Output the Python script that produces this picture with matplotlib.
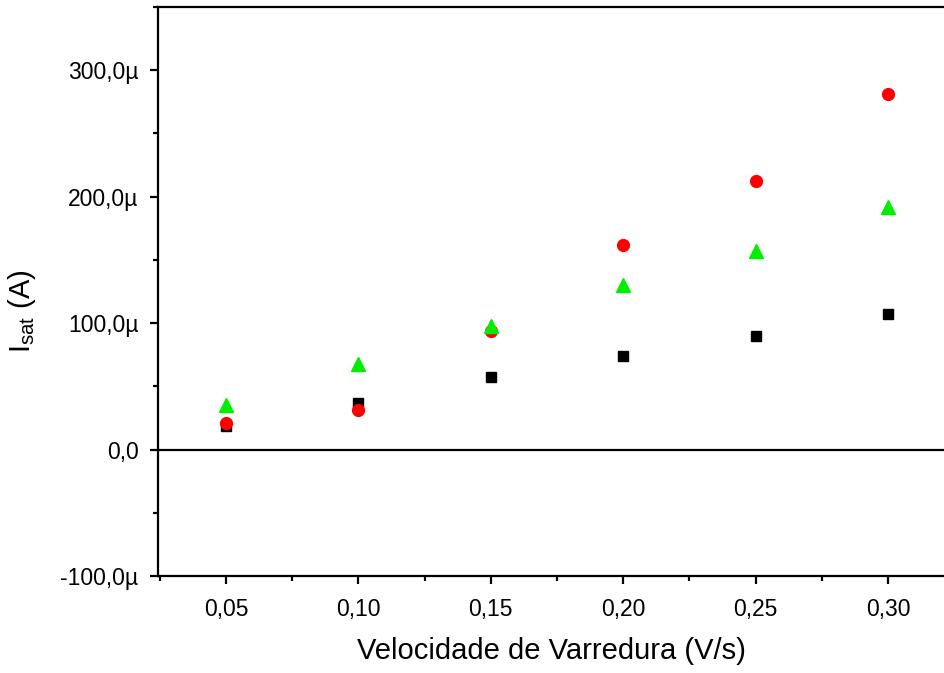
import matplotlib
matplotlib.use("Agg")
import matplotlib.pyplot as plt
from matplotlib.ticker import FuncFormatter, MultipleLocator

plt.rcParams['font.family'] = ['Liberation Sans', 'DejaVu Sans']

velocidade = [0.05, 0.10, 0.15, 0.20, 0.25, 0.30]
isat_preto = [19e-6, 37e-6, 57e-6, 74e-6, 90e-6, 107.5e-6]
isat_vermelho = [21e-6, 31.5e-6, 94e-6, 162e-6, 212.5e-6, 281e-6]
isat_verde = [35.5e-6, 68e-6, 98e-6, 130e-6, 157e-6, 192e-6]


def fmt_y(v, pos):
    if abs(v) < 1e-12:
        return "0,0"
    return ("%.1f" % (v * 1e6)).replace(".", ",") + "\u00b5"


def fmt_x(v, pos):
    return ("%.2f" % v).replace(".", ",")


fig = plt.figure(figsize=(9.45, 6.73), dpi=100)
ax = fig.add_axes([158 / 945, 97 / 673, 1 - 158 / 945, 569 / 673])

ax.plot(velocidade, isat_preto, 's', color='black', ms=7.5, mec='black')
ax.plot(velocidade, isat_vermelho, 'o', color='red', ms=8.5, mec='red')
ax.plot(velocidade, isat_verde, '^', color='#00ee00', ms=9.5, mec='#00ee00')
ax.axhline(0, color='black', lw=1.6, zorder=0)

ax.set_xlim(0.0243, 0.3215)
ax.set_ylim(-100e-6, 350e-6)

ax.xaxis.set_major_locator(MultipleLocator(0.05))
ax.xaxis.set_minor_locator(MultipleLocator(0.025))
ax.yaxis.set_major_locator(MultipleLocator(100e-6))
ax.yaxis.set_minor_locator(MultipleLocator(50e-6))
ax.xaxis.set_major_formatter(FuncFormatter(fmt_x))
ax.yaxis.set_major_formatter(FuncFormatter(fmt_y))

ax.spines['right'].set_visible(False)
for s in ['left', 'bottom', 'top']:
    ax.spines[s].set_linewidth(1.6)

ax.tick_params(which='major', direction='out', length=6, width=1.6, labelsize=16.5)
ax.tick_params(axis='x', which='major', pad=9.5)
ax.tick_params(axis='y', which='major', pad=8)
ax.tick_params(which='minor', direction='out', length=3.5, width=1.6)
ax.tick_params(top=False, right=False)

ax.set_xlabel("Velocidade de Varredura (V/s)", fontsize=21, labelpad=12)
ax.set_ylabel("I$_{\\mathregular{sat}}$ (A)", fontsize=21)
ax.yaxis.set_label_coords(-0.152, 0.466)

fig.savefig("out.png", dpi=100)
